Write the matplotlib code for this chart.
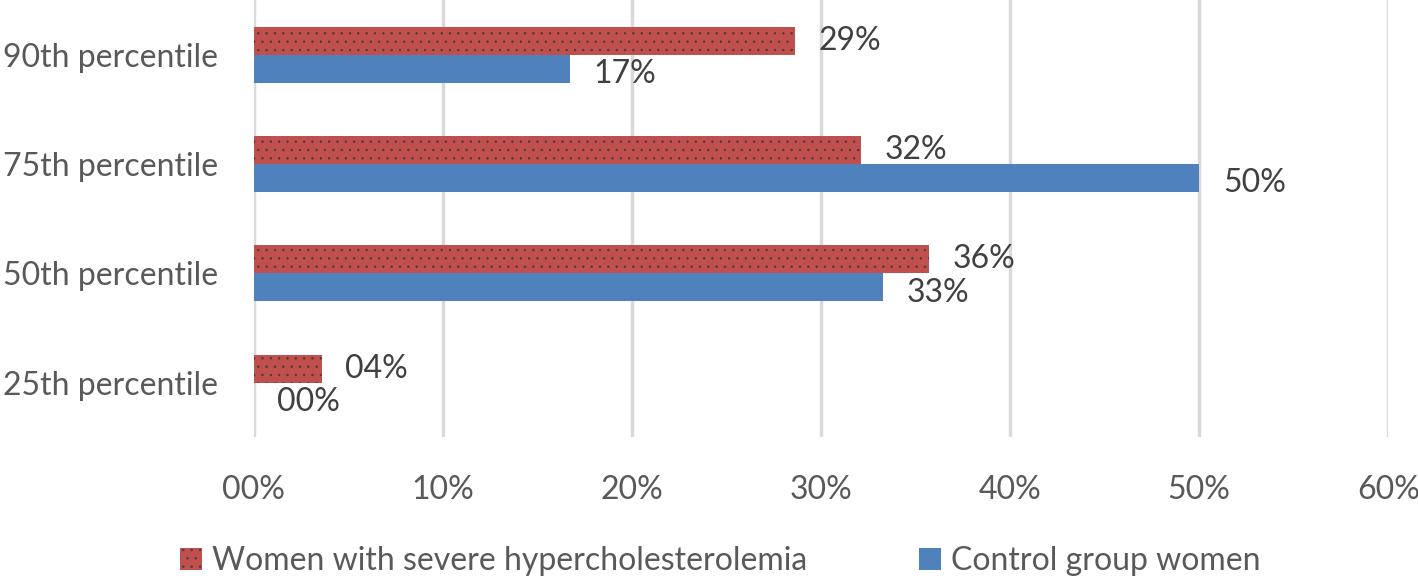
import numpy as np
import matplotlib.pyplot as plt
from matplotlib.patches import Patch

plt.rcParams['font.family'] = ['Lato', 'DejaVu Sans']
plt.rcParams['hatch.color'] = '#4a3a3a'
plt.rcParams['hatch.linewidth'] = 0.5

categories = ["25th percentile", "50th percentile", "75th percentile", "90th percentile"]
severe = [3.6, 35.7, 32.1, 28.6]
control = [0.0, 33.3, 50.0, 16.7]
xticks = [0, 10, 20, 30, 40, 50, 60]

red = '#C0504D'
blue = '#4F81BD'
gray = '#595959'
fs = 23

fig = plt.figure(figsize=(14.18, 5.79), dpi=100)
ax = fig.add_axes([0.179, 0.245, 0.8, 0.755])

y = np.arange(len(categories))
h = 0.256
ax.barh(y + h / 2, severe, height=h, color=red, hatch='..', linewidth=0)
ax.barh(y - h / 2, control, height=h, color=blue, linewidth=0)

for yi, v in zip(y, severe):
    ax.annotate(f"{v:02.0f}%", (v, yi + h / 2), xytext=(17, 0), textcoords='offset points',
                va='center', ha='left', fontsize=fs, color='#404040')
for yi, v in zip(y, control):
    ax.annotate(f"{v:02.0f}%", (v, yi - h / 2), xytext=(17, -4), textcoords='offset points',
                va='center', ha='left', fontsize=fs, color='#404040')

ax.set_xlim(0, 60)
ax.set_ylim(-0.5, 3.5)
ax.set_xticks(xticks)
ax.set_xticklabels([f"{t:02d}%" for t in xticks])
ax.set_yticks(y)
ax.set_yticklabels(categories)
ax.tick_params(axis='both', length=0, labelsize=fs, labelcolor=gray)
ax.tick_params(axis='x', pad=27)
ax.tick_params(axis='y', pad=26)
ax.grid(axis='x', color='#D9D9D9', linewidth=2.5)
ax.set_axisbelow(True)
for s in ax.spines.values():
    s.set_visible(False)

handles = [Patch(facecolor=red, hatch='..', linewidth=0, label='Women with severe hypercholesterolemia'),
           Patch(facecolor=blue, linewidth=0, label='Control group women')]
fig.legend(handles=handles, loc='lower center', bbox_to_anchor=(0.508, -0.045), ncol=2,
           frameon=False, fontsize=fs, labelcolor=gray, handlelength=0.7, handleheight=0.7,
           handletextpad=0.3, columnspacing=3.5)

fig.savefig('out.png', dpi=100)
